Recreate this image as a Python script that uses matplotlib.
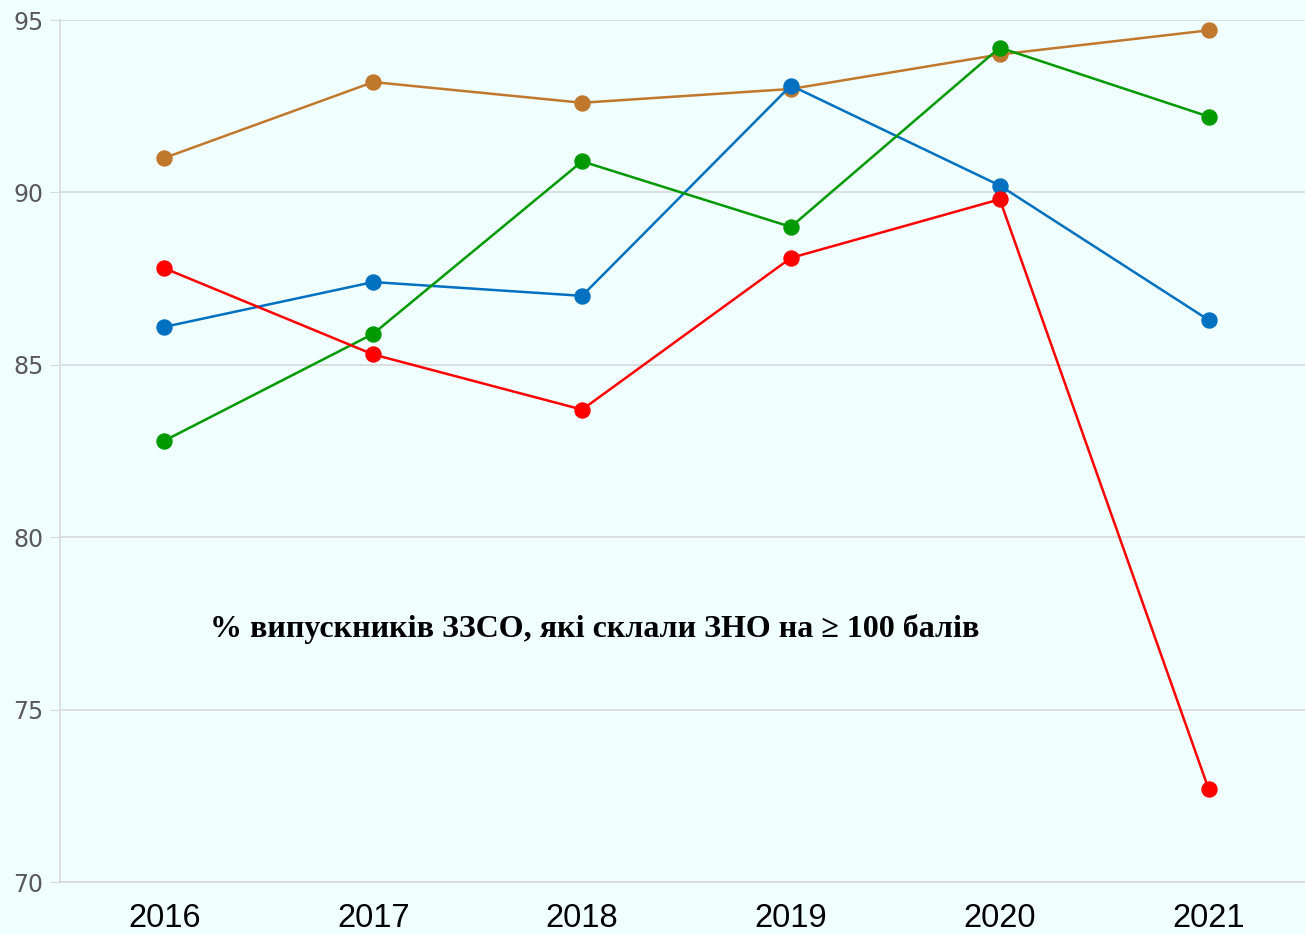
import matplotlib
matplotlib.use("Agg")
import matplotlib.pyplot as plt

# data
years = ["2016", "2017", "2018", "2019", "2020", "2021"]
orange_vals = [91.0, 93.2, 92.6, 93.0, 94.0, 94.7]
blue_vals = [86.1, 87.4, 87.0, 93.1, 90.2, 86.3]
green_vals = [82.8, 85.9, 90.9, 89.0, 94.2, 92.2]
red_vals = [87.8, 85.3, 83.7, 88.1, 89.8, 72.7]
yticks = [70, 75, 80, 85, 90, 95]
caption = "% випускників ЗЗСО, які склали ЗНО на ≥ 100 балів"

bg = "#F0FFFF"
grid_col = "#D9D9D9"

fig = plt.figure(figsize=(13.05, 9.35), dpi=100)
fig.patch.set_facecolor(bg)
# axes placed so that -0.5 sits at the left spine and 95..70 fills the plot height
ax = fig.add_axes([60 / 1305, 1 - 882 / 935, 1253 / 1305, 862 / 935])
ax.set_facecolor(bg)

x = range(len(years))
series = [
    (orange_vals, "#C0782D"),
    (blue_vals, "#0070C0"),
    (green_vals, "#009A00"),
    (red_vals, "#FF0000"),
]
for vals, col in series:
    ax.plot(x, vals, color=col, lw=1.8, marker="o", ms=10.8, zorder=3)

ax.set_xlim(-0.5, 5.5)
ax.set_ylim(70, 95)
ax.set_yticks(yticks)
ax.set_xticks(list(x))
ax.set_xticklabels(years, fontsize=23.5, color="black", family="Liberation Sans")
ax.set_yticklabels([str(v) for v in yticks], fontsize=17, color="#595959",
                   family="DejaVu Sans")
ax.tick_params(axis="x", length=0, pad=15)
ax.tick_params(axis="y", length=7, color=grid_col, pad=5)
ax.grid(axis="y", color=grid_col, lw=1.2, zorder=0)
ax.set_axisbelow(True)

for side in ["top", "right"]:
    ax.spines[side].set_visible(False)
ax.spines["left"].set_color(grid_col)
ax.spines["left"].set_linewidth(1.2)
ax.spines["bottom"].set_color(grid_col)
ax.spines["bottom"].set_linewidth(1.2)

ax.text(2.06, 77.35, caption, fontsize=23, fontweight="bold",
        family=["Liberation Serif", "DejaVu Serif"], ha="center", va="center")

plt.savefig("out.png", dpi=100, facecolor=bg)
